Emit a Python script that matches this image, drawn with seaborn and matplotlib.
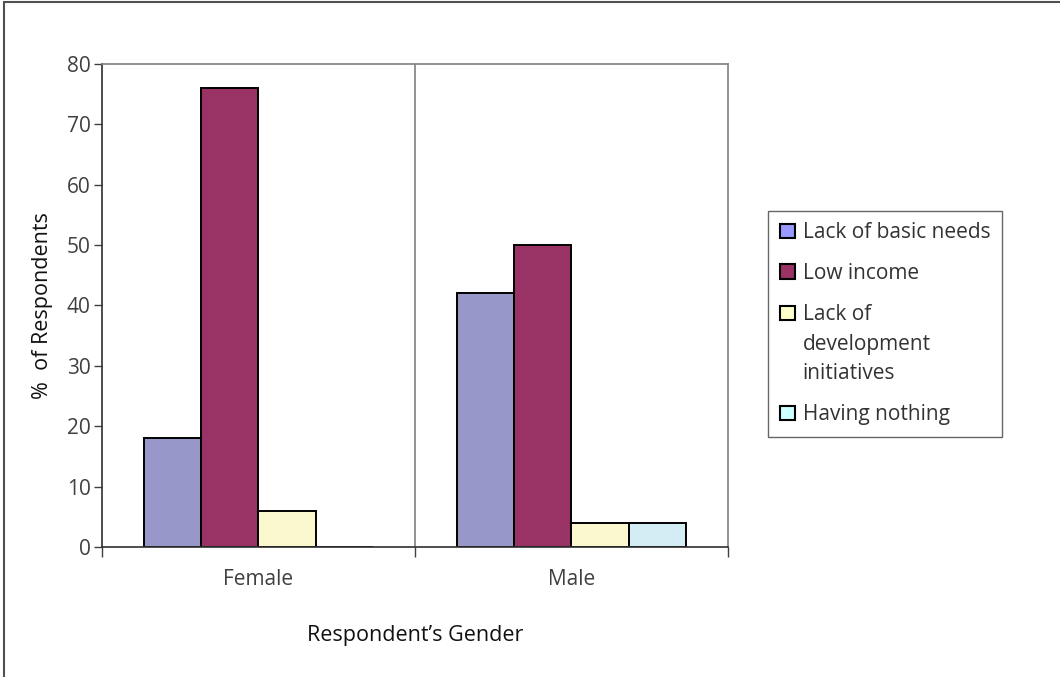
import seaborn as sns
import matplotlib.pyplot as plt
import pandas as pd
from matplotlib.lines import Line2D

# Chart data
genders = ["Female", "Male"]
reasons = ["Lack of basic needs", "Low income",
           "Lack of\ndevelopment\ninitiatives", "Having nothing"]
female_pct = [18, 76, 6, 0]
male_pct = [42, 50, 4, 4]
bar_colors = ["#9797C9", "#993366", "#FBF7CF", "#D4ECF3"]
legend_colors = ["#9999FF", "#993366", "#FFFFCC", "#CCFFFF"]

df = pd.DataFrame({
    "gender": [g for g in genders for _ in reasons],
    "reason": reasons * 2,
    "pct": female_pct + male_pct,
})

sns.set_style("white")
plt.rcParams["font.family"] = ["Open Sans", "DejaVu Sans"]

fig = plt.figure(figsize=(10.6, 6.77), dpi=100)
ax = fig.add_axes([0.0962, 0.192, 0.5906, 0.7135])

sns.barplot(data=df, x="gender", y="pct", hue="reason", order=genders,
            hue_order=reasons, palette=bar_colors, width=0.73,
            edgecolor="black", linewidth=1.4, saturation=1, ax=ax)

ax.set_xlim(-0.5, 1.5)
ax.set_ylim(0, 80)
ax.set_yticks(range(0, 81, 10))
ax.axvline(0.5, color="#808080", lw=1.2, zorder=0)

# category boundaries as tick marks, names centred between them
ax.set_xticks([-0.5, 0.5, 1.5])
ax.set_xticklabels(["", "", ""])
ax.set_xticks([0, 1], minor=True)
ax.set_xticklabels(genders, minor=True)
ax.tick_params(axis="x", which="major", direction="out", length=7,
               width=1, color="#404040", bottom=True)
ax.tick_params(axis="x", which="minor", length=0, pad=16,
               labelsize=15, labelcolor="#404040")
ax.tick_params(axis="y", direction="out", length=6, width=1,
               color="#404040", left=True, labelsize=15,
               labelcolor="#404040", pad=2)

for side in ["top", "right"]:
    ax.spines[side].set_color("#808080")
    ax.spines[side].set_linewidth(1.2)
for side in ["left", "bottom"]:
    ax.spines[side].set_color("#303030")
    ax.spines[side].set_linewidth(1.2)

ax.set_xlabel("Respondent\u2019s Gender", fontsize=15.5, color="#111111",
              labelpad=25)
ax.set_ylabel("%  of Respondents", fontsize=15.5, color="#111111",
              labelpad=10)

leg = ax.legend(loc="upper left", bbox_to_anchor=(1.064, 0.696),
                frameon=True, fancybox=False, fontsize=15,
                handlelength=0.72, handleheight=0.72, handletextpad=0.4,
                labelspacing=0.95, borderpad=0.55, borderaxespad=0)
leg.get_frame().set_edgecolor("#404040")
leg.get_frame().set_linewidth(1)
for t in leg.get_texts():
    t.set_color("#333333")
    t.set_linespacing(1.55)
for h, c in zip(leg.legend_handles, legend_colors):
    h.set_facecolor(c)
    h.set_linewidth(1.5)
# the wrapped entry gets its box beside the first line, as in Excel
h3 = leg.legend_handles[2]
h3.set_y(h3.get_y() + 23)

# outer frame on the top and left of the figure
fig.add_artist(Line2D([0.0035, 1], [0.9965, 0.9965], color="#505050",
                      lw=1.5, transform=fig.transFigure))
fig.add_artist(Line2D([0.0035, 0.0035], [0, 0.9965], color="#505050",
                      lw=1.5, transform=fig.transFigure))

fig.savefig("out.png", dpi=100)
